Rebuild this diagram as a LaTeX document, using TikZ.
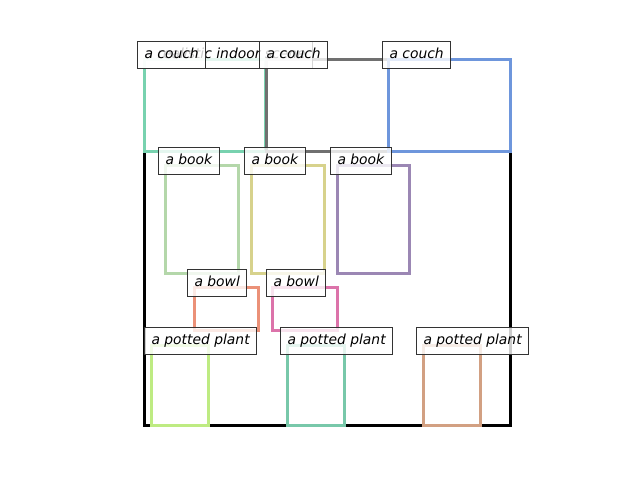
\documentclass[tikz,border=0pt]{standalone}
\usepackage{fontspec}
\setmainfont{DejaVu Sans}
\definecolor{couchA}{RGB}{120,210,175}
\definecolor{couchB}{RGB}{112,112,112}
\definecolor{couchC}{RGB}{110,150,220}
\definecolor{bookA}{RGB}{180,215,170}
\definecolor{bookB}{RGB}{215,210,140}
\definecolor{bookC}{RGB}{155,135,180}
\definecolor{bowlA}{RGB}{235,145,120}
\definecolor{bowlB}{RGB}{220,115,170}
\definecolor{plantA}{RGB}{190,235,130}
\definecolor{plantB}{RGB}{120,200,170}
\definecolor{plantC}{RGB}{210,160,130}
\tikzset{
  objbox/.style={line width=2.25pt},
  scenebox/.style={line width=2.25pt, draw=black},
  lbl/.style={draw=black!80, line width=0.75pt, fill=white, fill opacity=0.8,
    text opacity=1, font=\fontsize{10.4}{12}\selectfont\itshape,
    inner xsep=5.25pt, inner ysep=0pt, text height=8pt, text depth=2.4pt,
    minimum height=20.25pt, anchor=west}
}
\begin{document}
\begin{tikzpicture}[x=0.75pt,y=-0.75pt]
\useasboundingbox (0,0) rectangle (640,480);
% boxes
\draw[scenebox] (144,59) rectangle (510,425);
\draw[objbox,couchA] (144,59) rectangle (265,151);
\draw[objbox,couchB] (266,59) rectangle (388,151);
\draw[objbox,couchC] (388,59) rectangle (510,151);
\draw[objbox,bookA] (165,165) rectangle (238,273);
\draw[objbox,bookB] (251,165) rectangle (324,273);
\draw[objbox,bookC] (337,165) rectangle (409,273);
\draw[objbox,bowlA] (194,287) rectangle (258,330);
\draw[objbox,bowlB] (272,287) rectangle (337,330);
\draw[objbox,plantA] (151,345) rectangle (208,425);
\draw[objbox,plantB] (287,345) rectangle (344,425);
\draw[objbox,plantC] (423,345) rectangle (480,425);
% labels
\node[lbl] (lscene) at (137,54.5) {a realistic indoor scene};
\node[lbl] (lcouchA) at (137,54.5) {a couch};
\node[lbl] (lcouchB) at (259,54.5) {a couch};
\node[lbl] (lcouchC) at (382,54.5) {a couch};
\node[lbl] (lbookA) at (158,161) {a book};
\node[lbl] (lbookB) at (244,161) {a book};
\node[lbl] (lbookC) at (330,161) {a book};
\node[lbl] (lbowlA) at (187,283) {a bowl};
\node[lbl] (lbowlB) at (266,283) {a bowl};
\node[lbl] (lplantA) at (144,340.5) {a potted plant};
\node[lbl] (lplantB) at (280,340.5) {a potted plant};
\node[lbl] (lplantC) at (416,340.5) {a potted plant};
\end{tikzpicture}
\end{document}
